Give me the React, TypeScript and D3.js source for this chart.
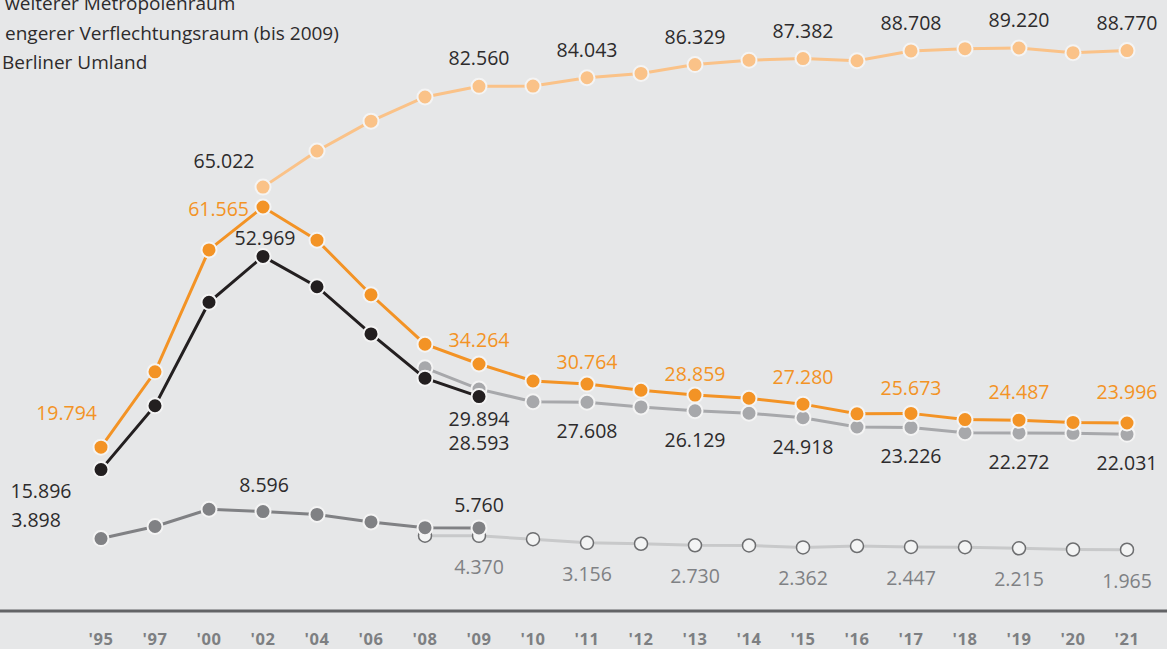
import * as d3 from 'd3';
import { useEffect } from 'react';

const years = ["'95", "'97", "'00", "'02", "'04", "'06", "'08", "'09", "'10", "'11", "'12", "'13", "'14", "'15", "'16", "'17", "'18", "'19", "'20", "'21"];

const legendItems = ['weiterer Metropolenraum', 'engerer Verflechtungsraum (bis 2009)', 'Berliner Umland'];

// null = no value for that year
const landTotal = [null, null, null, 65.022, 71.3, 76.5, 80.7, 82.56, 82.6, 84.043, 84.8, 86.329, 87.1, 87.382, 87.0, 88.708, 89.1, 89.22, 88.4, 88.77];
const umland = [19.794, 32.9, 54.1, 61.565, 55.8, 46.3, 37.7, 34.264, 31.3, 30.764, 29.7, 28.859, 28.3, 27.28, 25.6, 25.673, 24.6, 24.487, 24.1, 23.996];
const engererVR = [15.896, 27.0, 45.0, 52.969, 47.7, 39.5, 31.8, 28.593, null, null, null, null, null, null, null, null, null, null, null, null];
const umlandGrau = [null, null, null, null, null, null, 33.6, 29.894, 27.7, 27.608, 26.8, 26.129, 25.7, 24.918, 23.3, 23.226, 22.3, 22.272, 22.2, 22.031];
const weitererBis09 = [3.898, 6.0, 9.0, 8.596, 8.1, 6.8, 5.8, 5.76, null, null, null, null, null, null, null, null, null, null, null, null];
const weitererAb08 = [null, null, null, null, null, null, 4.4, 4.37, 3.8, 3.156, 3.0, 2.73, 2.7, 2.362, 2.6, 2.447, 2.4, 2.215, 2.0, 1.965];

const W = 1167;
const H = 649;
const BG = '#e6e7e8';
const FONT = "'Open Sans', 'Noto Sans', sans-serif";

type Series = { key: string; values: (number | null)[]; line: string; fill: string; stroke: string; width: number };

const series: Series[] = [
  { key: 'weitererAb08', values: weitererAb08, line: '#c8c9ca', fill: '#f3f4f4', stroke: '#6d6e70', width: 3 },
  { key: 'weitererBis09', values: weitererBis09, line: '#808184', fill: '#808184', stroke: '#f4f4f4', width: 3 },
  { key: 'umlandGrau', values: umlandGrau, line: '#a7a8ab', fill: '#a7a8ab', stroke: '#f4f4f4', width: 3 },
  { key: 'engererVR', values: engererVR, line: '#231f20', fill: '#231f20', stroke: '#f4f4f4', width: 3 },
  { key: 'umland', values: umland, line: '#f39325', fill: '#f39325', stroke: '#f4f4f4', width: 3 },
  { key: 'landTotal', values: landTotal, line: '#fac288', fill: '#fac288', stroke: '#f4f4f4', width: 3 },
];

const DARK = '#2d2b2c';
const ORANGE = '#f39325';
const GREY = '#7f8184';

// label placement: series key, year index, offset from the point, colour, anchor
const labels: { s: string; i: number; dx: number; dy: number; color: string; anchor?: string }[] = [
  { s: 'landTotal', i: 3, dx: -39, dy: -19, color: DARK },
  ...[7, 9, 11, 13, 15, 17, 19].map((i) => ({ s: 'landTotal', i, dx: 0, dy: -21, color: DARK })),
  { s: 'umland', i: 0, dx: -4, dy: -27, color: ORANGE, anchor: 'end' },
  { s: 'umland', i: 3, dx: -14, dy: 9, color: ORANGE, anchor: 'end' },
  { s: 'umland', i: 7, dx: 0, dy: -17, color: ORANGE },
  { s: 'umland', i: 9, dx: 0, dy: -15, color: ORANGE },
  { s: 'umland', i: 11, dx: 0, dy: -14, color: ORANGE },
  { s: 'umland', i: 13, dx: 0, dy: -20, color: ORANGE },
  { s: 'umland', i: 15, dx: 0, dy: -18, color: ORANGE },
  { s: 'umland', i: 17, dx: 0, dy: -21, color: ORANGE },
  { s: 'umland', i: 19, dx: 0, dy: -24, color: ORANGE },
  { s: 'engererVR', i: 0, dx: -60, dy: 28, color: DARK },
  { s: 'engererVR', i: 3, dx: 2, dy: -11, color: DARK },
  { s: 'engererVR', i: 7, dx: 0, dy: 53, color: DARK },
  { s: 'umlandGrau', i: 7, dx: 0, dy: 37, color: DARK },
  ...[9, 11, 13, 15, 17, 19].map((i) => ({ s: 'umlandGrau', i, dx: 0, dy: 36, color: DARK })),
  { s: 'weitererBis09', i: 0, dx: -65, dy: -12, color: DARK },
  { s: 'weitererBis09', i: 3, dx: 1, dy: -20, color: DARK },
  { s: 'weitererBis09', i: 7, dx: 0, dy: -16, color: DARK },
  ...[7, 9, 11, 13, 15, 17, 19].map((i) => ({ s: 'weitererAb08', i, dx: 0, dy: 38, color: GREY })),
];

const fmt = (v: number) => v.toFixed(3);

export default function App() {
  useEffect(() => {
    document.body.style.margin = '0';
    document.body.style.background = BG;
  }, []);

  const x = d3.scalePoint<string>().domain(years).range([101, 1127]);
  const y = d3.scaleLinear().domain([0, 90]).range([561, 43.5]);

  const line = d3
    .line<number | null>()
    .defined((d) => d != null)
    .x((_, i) => x(years[i]) as number)
    .y((d) => y(d as number));

  const byKey = new Map(series.map((s) => [s.key, s]));

  return (
    <svg width={W} height={H} style={{ display: 'block', background: BG }}>
      <rect width={W} height={H} fill={BG} />
      {legendItems.map((t, i) => (
        <text key={t} x={i === 2 ? 2 : 5} y={10 + i * 29.6} fontFamily={FONT} fontSize={19} fill={DARK}>
          {t}
        </text>
      ))}

      {series.map((s) => (
        <g key={s.key}>
          <path d={line(s.values) || ''} fill="none" stroke={s.line} strokeWidth={s.width} />
          {s.values.map((v, i) =>
            v == null ? null : (
              <circle
                key={i}
                cx={x(years[i])}
                cy={y(v)}
                r={s.key === 'weitererAb08' ? 6.5 : 7.5}
                fill={s.fill}
                stroke={s.stroke}
                strokeWidth={s.key === 'weitererAb08' ? 1.5 : 2}
              />
            )
          )}
        </g>
      ))}

      {labels.map((l, k) => {
        const s = byKey.get(l.s)!;
        const v = s.values[l.i] as number;
        return (
          <text
            key={k}
            x={(x(years[l.i]) as number) + l.dx}
            y={y(v) + l.dy}
            textAnchor={l.anchor || 'middle'}
            fontFamily={FONT}
            fontSize={19.5}
            fill={l.color}
          >
            {fmt(v)}
          </text>
        );
      })}

      <line x1={0} x2={W} y1={611} y2={611} stroke="#636466" strokeWidth={3} />
      {years.map((yr) => (
        <text
          key={yr}
          x={x(yr)}
          y={645}
          textAnchor="middle"
          fontFamily={FONT}
          fontWeight={700}
          fontSize={16.5}
          letterSpacing={0.5}
          fill="#7d7f82"
        >
          {yr}
        </text>
      ))}
    </svg>
  );
}
